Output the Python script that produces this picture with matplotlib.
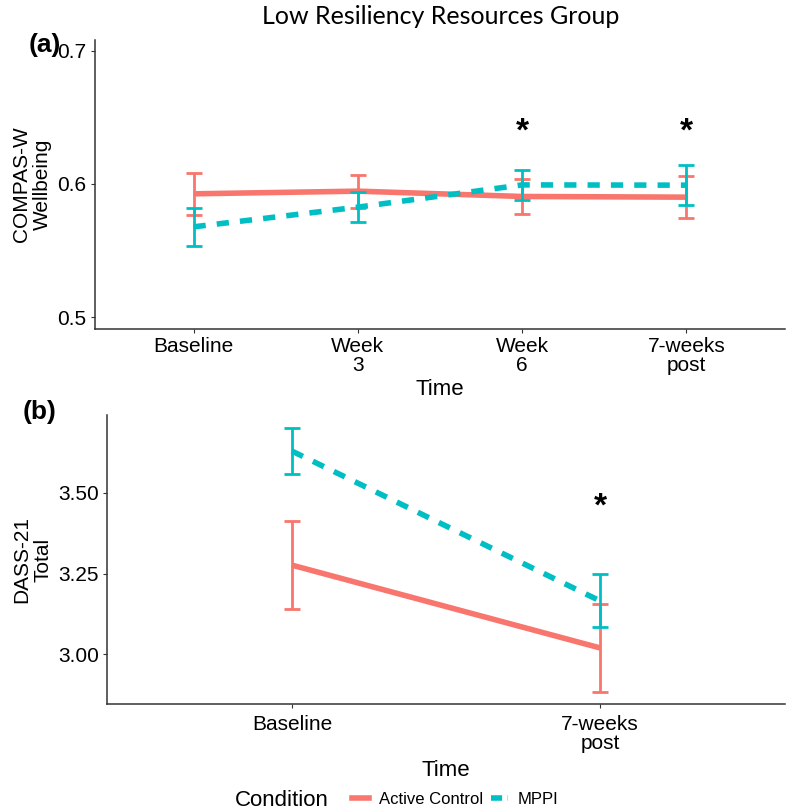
import matplotlib
matplotlib.use("Agg")
import matplotlib.pyplot as plt
from matplotlib.lines import Line2D

# panel (a) - COMPAS-W wellbeing
time_a = ["Baseline", "Week\n3", "Week\n6", "7-weeks\npost"]
ac_a = [0.5925, 0.5945, 0.5905, 0.5900]
ac_a_se = [0.0158, 0.0125, 0.0135, 0.0160]
mppi_a = [0.5677, 0.5825, 0.5992, 0.5990]
mppi_a_se = [0.0143, 0.0110, 0.0113, 0.0148]
star_a = [2, 3]          # index of time points with *
star_a_y = 0.639

# panel (b) - DASS-21 total
time_b = ["Baseline", "7-weeks\npost"]
ac_b = [3.276, 3.019]
ac_b_se = [0.137, 0.136]
mppi_b = [3.630, 3.165]
mppi_b_se = [0.072, 0.082]
star_b = [1]
star_b_y = 3.456

red = "#F8766D"
cyan = "#00BFC4"

plt.rcParams['font.family'] = ['Liberation Sans', 'DejaVu Sans']

fig = plt.figure(figsize=(7.86, 8.11), dpi=100)
ax1 = fig.add_axes([95/786, 1-329/811, 690/786, 289/811])
ax2 = fig.add_axes([107/786, 1-704/811, 678/786, 289/811])


def draw_panel(ax, labels, ac, ac_se, mp, mp_se, stars, star_y, xpad, lpad):
    x = list(range(len(labels)))
    ax.errorbar(x, ac, yerr=ac_se, color=red, lw=4, capsize=6, elinewidth=2,
                capthick=2, solid_capstyle='butt', zorder=2)
    ax.errorbar(x, mp, yerr=mp_se, color=cyan, lw=4, capsize=6, elinewidth=2,
                capthick=2, ls=(0, (2.2, 2.0)), zorder=3)
    for i in stars:
        ax.text(x[i], star_y, "*", ha='center', va='center', fontsize=24,
                fontweight='bold')
    ax.set_xticks(x)
    ax.set_xticklabels(labels, fontsize=15, linespacing=1.0)
    ax.set_xlim(-0.6, len(labels) - 0.4)
    ax.set_xlabel("Time", fontsize=16, labelpad=lpad)
    for s in ["top", "right"]:
        ax.spines[s].set_visible(False)
    for s in ["left", "bottom"]:
        ax.spines[s].set_color("#333333")
        ax.spines[s].set_linewidth(1.1)
    ax.tick_params(length=3, color="#333333", labelsize=15, pad=3)
    ax.tick_params(axis='x', pad=xpad)


draw_panel(ax1, time_a, ac_a, ac_a_se, mppi_a, mppi_a_se, star_a, star_a_y, 3, 3)
ax1.set_ylim(0.491, 0.708)
ax1.set_yticks([0.5, 0.6, 0.7])
ax1.set_yticklabels(["0.5", "0.6", "0.7"])
ax1.set_ylabel("COMPAS-W\nWellbeing", fontsize=15, linespacing=1.15, labelpad=4)

draw_panel(ax2, time_b, ac_b, ac_b_se, mppi_b, mppi_b_se, star_b, star_b_y, 5, 5)
ax2.set_ylim(2.845, 3.742)
ax2.set_yticks([3.0, 3.25, 3.5])
ax2.set_yticklabels(["3.00", "3.25", "3.50"])
ax2.set_ylabel("DASS-21\nTotal", fontsize=15, linespacing=1.15, labelpad=4)

fig.text(441/786, 1-16/811, "Low Resiliency Resources Group", ha='center',
         va='center', fontsize=18, family=['Lato', 'DejaVu Sans'])
fig.text(45/786, 1-45/811, "(a)", ha='center', va='center', fontsize=19,
         fontweight='bold')
fig.text(40/786, 1-412/811, "(b)", ha='center', va='center', fontsize=19,
         fontweight='bold')

# legend at the bottom
handles = [Line2D([], [], color=red, lw=4),
           Line2D([], [], color=cyan, lw=4, ls=(0, (2, 1)))]
fig.text(282/786, 1-800/811, "Condition", ha='center', va='center', fontsize=16)
fig.legend(handles, ["Active Control", "MPPI"], ncol=2, frameon=False,
           loc='center left', bbox_to_anchor=(337/786, 1-799/811),
           fontsize=12, handlelength=1.0, handletextpad=0.6, columnspacing=0.5)

fig.savefig("out.png", dpi=100)
